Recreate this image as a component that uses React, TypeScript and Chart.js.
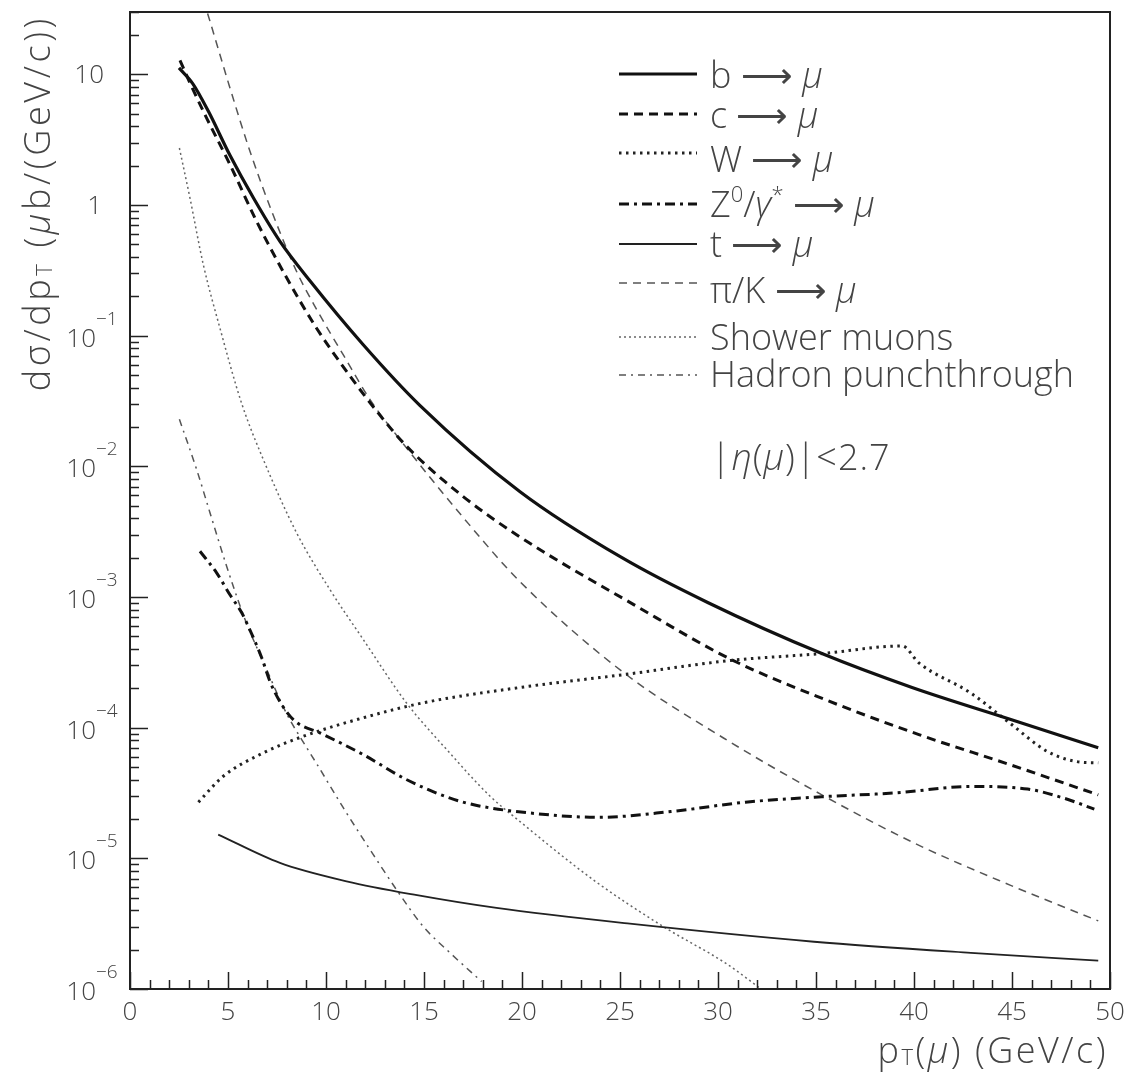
import React, { useEffect, useRef } from 'react';
import { Chart, registerables } from 'chart.js';

Chart.register(...registerables);

const CW = 1129;
const CH = 1075;
const FONT = '"Open Sans", "DejaVu Sans", sans-serif';
const WEIGHT = '300';
const TEXT = '#444';

// ---- data (pT in GeV/c, dsigma/dpT in mub/(GeV/c)) ----
const bX = [2.5, 3.2, 4.0, 5.1, 6.3, 7.65, 9.2, 11.9, 14.8, 19.9, 25.1, 29.5, 35.3, 39.9, 44.9, 49.4];
const bY = [11.2, 8.5, 5.21, 2.4, 1.13, 0.527, 0.261, 0.0853, 0.0292, 0.0064, 0.002, 9.04e-4, 3.69e-4, 2.03e-4, 1.16e-4, 7.03e-5];

const cX = [2.55, 3.06, 3.91, 5.1, 6.46, 8.0, 9.52, 11.05, 12.6, 14.1, 17.0, 19.9, 25.7, 30.65, 35.6, 40.25, 44.9, 49.4];
const cY = [12.8, 8.59, 4.63, 2.04, 0.75, 0.276, 0.114, 0.0533, 0.0263, 0.0143, 0.00587, 0.00288, 8.75e-4, 3.34e-4, 1.61e-4, 8.85e-5, 5.21e-5, 3.06e-5];

const wX = [3.49, 4.76, 6.8, 8.84, 11.9, 14.96, 19.9, 25.3, 30.65, 35.3, 39.4, 40.25, 42.9, 44.9, 46.8, 48.3, 49.4];
const wY = [2.69e-5, 4.25e-5, 6.41e-5, 8.59e-5, 1.19e-4, 1.55e-4, 2.03e-4, 2.56e-4, 3.27e-4, 3.69e-4, 4.22e-4, 3.13e-4, 1.84e-4, 1.08e-4, 6.58e-5, 5.5e-5, 5.38e-5];

const zX = [3.57, 4.42, 5.1, 5.7, 6.26, 6.72, 7.14, 7.74, 8.42, 9.69, 11.9, 14.1, 16.3, 17.7, 20.2, 23.9, 27.6, 31.4, 35.3, 39.1, 42.9, 45.8, 47.7, 49.2];
const zY = [2.24e-3, 1.53e-3, 1.04e-3, 7.57e-4, 5.01e-4, 3.43e-4, 2.26e-4, 1.5e-4, 1.12e-4, 9.12e-5, 6.22e-5, 4.01e-5, 2.9e-5, 2.54e-5, 2.24e-5, 2.06e-5, 2.28e-5, 2.69e-5, 2.96e-5, 3.17e-5, 3.55e-5, 3.39e-5, 2.87e-5, 2.38e-5];

const tX = [4.5, 7.65, 11.05, 14.5, 18.7, 25.5, 34.9, 42.9, 49.4];
const tY = [1.52e-5, 9.23e-6, 6.67e-6, 5.27e-6, 4.17e-6, 3.16e-6, 2.3e-6, 1.89e-6, 1.65e-6];

const piX = [3.75, 4.08, 5.1, 6.12, 7.31, 8.5, 9.52, 10.9, 12.24, 13.6, 17.0, 19.9, 25.3, 30.3, 35.3, 40.1, 44.9, 49.4];
const piY = [37, 25.5, 7.87, 2.58, 0.834, 0.31, 0.159, 0.0706, 0.0325, 0.0173, 4.06e-3, 1.31e-3, 2.56e-4, 8.3e-5, 3.06e-5, 1.29e-5, 6.24e-6, 3.32e-6];

const shX = [2.52, 3.06, 3.74, 4.59, 5.7, 6.8, 8.5, 10.2, 11.9, 14.1, 16.16, 18.37, 19.9, 23.74, 27.2, 30.46, 32.2];
const shY = [2.73, 1.13, 0.35, 0.114, 0.0302, 0.0113, 3.1e-3, 1.14e-3, 4.73e-4, 1.55e-4, 6.79e-5, 2.99e-5, 1.91e-5, 6.67e-6, 3.01e-6, 1.55e-6, 1.0e-6];

const hpX = [2.52, 3.4, 4.08, 4.93, 5.87, 6.97, 7.99, 9.01, 9.52, 10.88, 12.24, 13.6, 14.96, 16.33, 17.94];
const hpY = [0.0229, 9.46e-3, 4.42e-3, 1.72e-3, 6.73e-4, 2.79e-4, 1.28e-4, 7.05e-5, 5.31e-5, 2.44e-5, 1.17e-5, 5.75e-6, 3.01e-6, 1.89e-6, 1.14e-6];

const seriesNames = [
  'b → μ',
  'c → μ',
  'W → μ',
  'Z⁰/γ* → μ',
  't → μ',
  'π/K → μ',
  'Shower muons',
  'Hadron punchthrough',
];
const seriesX = [bX, cX, wX, zX, tX, piX, shX, hpX];
const seriesY = [bY, cY, wY, zY, tY, piY, shY, hpY];

const xTickLabels = ['0', '5', '10', '15', '20', '25', '30', '35', '40', '45', '50'];
const yDecades = [-6, -5, -4, -3, -2, -1, 0, 1];
const etaCut = '|η(μ)|<2.7';
const xTitle = 'p_T(μ) (GeV/c)';
const yTitle = 'dσ/dp_T (μb/(GeV/c))';

// ---- styles ----
const lineStyles = [
  { color: '#111', width: 3.2, dash: [] as number[] },
  { color: '#111', width: 3, dash: [9, 6] },
  { color: '#222', width: 3, dash: [2.5, 4.5] },
  { color: '#111', width: 3, dash: [10, 5, 3, 5] },
  { color: '#222', width: 1.8, dash: [] as number[] },
  { color: '#555', width: 1.5, dash: [8, 6] },
  { color: '#666', width: 1.5, dash: [2, 3] },
  { color: '#555', width: 1.5, dash: [7, 5, 2, 5] },
];
const legendLineY = [74, 114, 153, 204, 244, 283, 337, 375];
const legendTextBase = [88, 128, 172, 217, 257, 303, 350, 387];

type Seg = { t: string; it?: boolean; sup?: boolean; sub?: boolean };

function toSegs(s: string): Seg[] {
  const out: Seg[] = [];
  let i = 0;
  while (i < s.length) {
    const ch = s[i];
    if (ch === 'μ' || ch === 'γ' || ch === 'η') out.push({ t: ch, it: true });
    else if (ch === '⁰') out.push({ t: '0', sup: true });
    else if (ch === '*') out.push({ t: '*', sup: true });
    else if (ch === '→') out.push({ t: '⟶' });
    else if (ch === '_') {
      out.push({ t: s[i + 1], sub: true });
      i++;
    } else {
      const last = out[out.length - 1];
      if (last && !last.it && !last.sup && !last.sub && last.t !== '⟶') last.t += ch;
      else out.push({ t: ch });
    }
    i++;
  }
  return out;
}

function drawRich(
  ctx: CanvasRenderingContext2D,
  segs: Seg[],
  x: number,
  y: number,
  size: number,
  align: 'left' | 'right',
  spacing = 0
) {
  const fontOf = (s: Seg) =>
    `${s.it ? 'italic ' : ''}${WEIGHT} ${s.sup || s.sub ? Math.round(size * 0.6) : size}px ${FONT}`;
  const items: { ch: string; font: string; dy: number; w: number }[] = [];
  segs.forEach((s) => {
    const font = fontOf(s);
    ctx.font = font;
    const dy = s.sup ? -size * 0.42 : s.sub ? size * 0.06 : 0;
    if (spacing === 0) {
      items.push({ ch: s.t, font, dy, w: ctx.measureText(s.t).width });
    } else {
      for (const ch of Array.from(s.t)) items.push({ ch, font, dy, w: ctx.measureText(ch).width + spacing });
    }
  });
  const total = items.reduce((a, b) => a + b.w, 0);
  let cx = align === 'right' ? x - total : x;
  ctx.textAlign = 'left';
  ctx.textBaseline = 'alphabetic';
  items.forEach((it) => {
    ctx.font = it.font;
    ctx.fillText(it.ch, cx, y + it.dy);
    cx += it.w;
  });
}

const rootPlugin = {
  id: 'rootFrame',
  afterDraw(chart: any) {
    const ctx: CanvasRenderingContext2D = chart.ctx;
    const xs = chart.scales.x;
    const ys = chart.scales.y;
    const { left, right, top, bottom } = chart.chartArea;
    ctx.save();
    // frame
    ctx.strokeStyle = '#222';
    ctx.lineWidth = 2;
    ctx.setLineDash([]);
    ctx.strokeRect(left, top, right - left, bottom - top);
    // x ticks
    ctx.lineWidth = 1.5;
    ctx.beginPath();
    for (let v = 0; v <= 50; v++) {
      const px = Math.round(xs.getPixelForValue(v)) + 0.5;
      const len = v % 5 === 0 ? 17 : 9;
      ctx.moveTo(px, bottom);
      ctx.lineTo(px, bottom - len);
    }
    // y ticks
    for (const d of yDecades) {
      for (let m = 1; m <= 9; m++) {
        const v = m * Math.pow(10, d);
        if (v > ys.max * 1.0001 || v < ys.min * 0.9999) continue;
        const py = Math.round(ys.getPixelForValue(v)) + 0.5;
        const len = m === 1 ? 18 : 9;
        ctx.moveTo(left, py);
        ctx.lineTo(left + len, py);
      }
    }
    ctx.stroke();

    // tick labels
    ctx.fillStyle = TEXT;
    ctx.font = `${WEIGHT} 26px ${FONT}`;
    ctx.textAlign = 'center';
    ctx.textBaseline = 'alphabetic';
    xTickLabels.forEach((lab) => {
      const px = xs.getPixelForValue(Number(lab));
      ctx.fillText(lab, px, bottom + 31);
    });
    for (const d of yDecades) {
      const py = ys.getPixelForValue(Math.pow(10, d));
      ctx.textAlign = 'right';
      ctx.font = `${WEIGHT} 26px ${FONT}`;
      if (d === 1) ctx.fillText('10', 104, py + 9);
      else if (d === 0) ctx.fillText('1', 102, py + 9);
      else {
        ctx.fillText('10', 96, py + 11);
        ctx.textAlign = 'left';
        ctx.font = `${WEIGHT} 19px ${FONT}`;
        ctx.fillText('−' + String(-d), 96, py - 11);
      }
    }

    // axis titles
    drawRich(ctx, toSegs(xTitle), 1108, 1063, 36, 'right', 2.5);
    ctx.save();
    ctx.translate(50, 15);
    ctx.rotate(-Math.PI / 2);
    drawRich(ctx, toSegs(yTitle), 0, 0, 36, 'right', 3.6);
    ctx.restore();

    // legend
    chart.data.datasets.forEach((ds: any, i: number) => {
      const ly = legendLineY[i];
      ctx.strokeStyle = ds.borderColor;
      ctx.lineWidth = ds.borderWidth;
      ctx.setLineDash(ds.borderDash || []);
      ctx.beginPath();
      ctx.moveTo(619, ly);
      ctx.lineTo(697, ly);
      ctx.stroke();
      ctx.setLineDash([]);
      ctx.fillStyle = TEXT;
      drawRich(ctx, toSegs(ds.label), 710, legendTextBase[i], 36, 'left');
    });

    // eta cut
    ctx.fillStyle = TEXT;
    drawRich(ctx, toSegs(etaCut), 711, 470, 36, 'left', 1);
    ctx.restore();
  },
};

export default function App() {
  const ref = useRef<HTMLCanvasElement | null>(null);
  useEffect(() => {
    if (!ref.current) return;
    const datasets = seriesNames.map((name, i) => ({
      label: name,
      data: seriesX[i].map((x, j) => ({ x, y: seriesY[i][j] })),
      borderColor: lineStyles[i].color,
      borderWidth: lineStyles[i].width,
      borderDash: lineStyles[i].dash,
      borderCapStyle: 'butt' as const,
      pointRadius: 0,
      fill: false,
      tension: 0.4,
      cubicInterpolationMode: 'monotone' as const,
    }));
    const chart = new Chart(ref.current, {
      type: 'line',
      data: { datasets },
      options: {
        responsive: false,
        animation: false,
        devicePixelRatio: 1,
        layout: { padding: { left: 130, right: CW - 1110, top: 12, bottom: CH - 989 } },
        plugins: { legend: { display: false }, tooltip: { enabled: false } },
        scales: {
          x: { type: 'linear', min: 0, max: 50, display: false },
          y: { type: 'logarithmic', min: 1e-6, max: 30, display: false },
        },
      },
      plugins: [rootPlugin],
    });
    return () => chart.destroy();
  }, []);
  return (
    <div style={{ position: 'absolute', left: 0, top: 0, width: CW, height: CH, background: '#fff' }}>
      <canvas ref={ref} width={CW} height={CH} style={{ display: 'block', width: CW, height: CH }} />
    </div>
  );
}
